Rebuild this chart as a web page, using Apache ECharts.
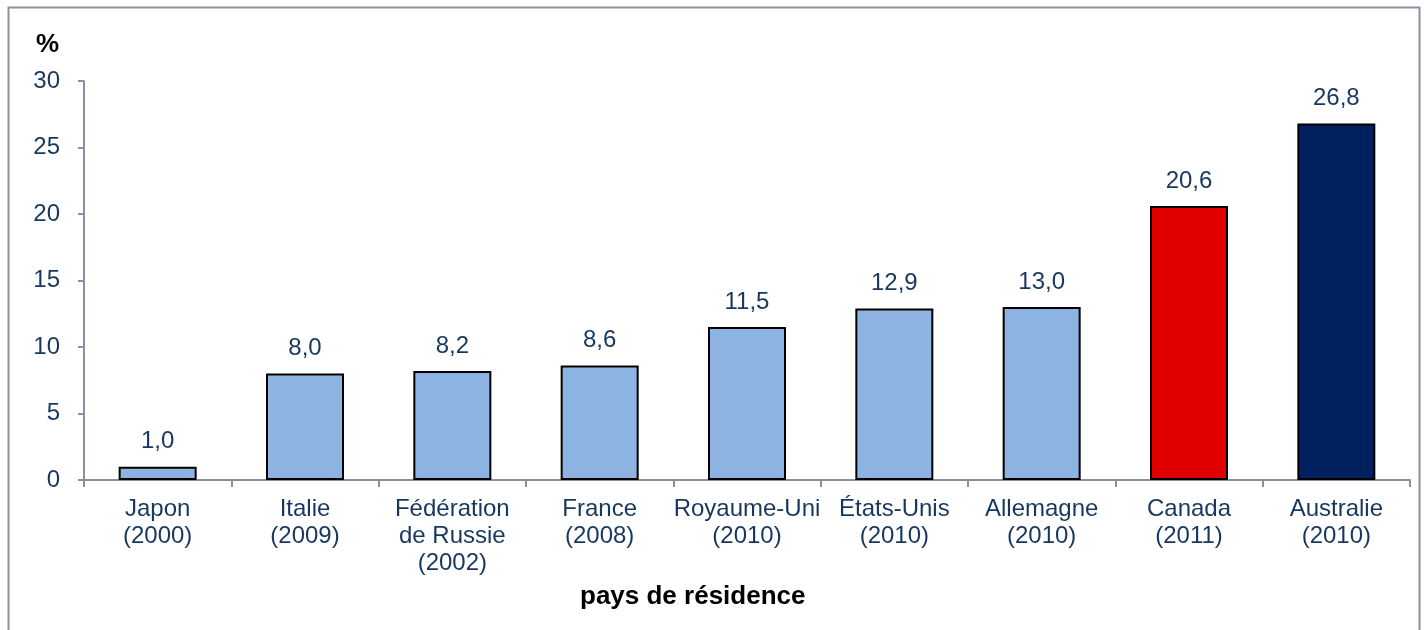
<!DOCTYPE html>
<html>
<head>
<meta charset="UTF-8" />
<title>pays de résidence</title>
<script src="https://cdn.jsdelivr.net/npm/echarts@6/dist/echarts.min.js"></script>
<style>
html, body { margin: 0; padding: 0; background: #fff; }
#chart { width: 1425px; height: 630px; }
</style>
</head>
<body>
<div id="chart"></div>
<script>
// données
var categories = [
  "Japon\n(2000)", "Italie\n(2009)", "Fédération\nde Russie\n(2002)", "France\n(2008)",
  "Royaume-Uni\n(2010)", "États-Unis\n(2010)", "Allemagne\n(2010)", "Canada\n(2011)", "Australie\n(2010)"
];
var values = [1.0, 8.0, 8.2, 8.6, 11.5, 12.9, 13.0, 20.6, 26.8];
var yTicks = [0, 5, 10, 15, 20, 25, 30];

// couleurs des barres (Canada et Australie mis en évidence)
var barColors = ["#8db3e2", "#8db3e2", "#8db3e2", "#8db3e2", "#8db3e2", "#8db3e2", "#8db3e2", "#e00000", "#002060"];

var textBlue = "#17375e";
var axisGray = "#8b90a0";
var font = "Liberation Sans, Arial, sans-serif";

var myChart = echarts.init(document.getElementById("chart"));

var option = {
  animation: false,
  textStyle: { fontFamily: font },
  graphic: [
    {
      type: "rect",
      shape: { x: 8.5, y: 7.5, width: 1411, height: 650 },
      style: { fill: null, stroke: axisGray, lineWidth: 2 },
      silent: true
    },
    {
      type: "text",
      left: 36,
      top: 32,
      style: { text: "%", fontSize: 26, fontWeight: "bold", fill: "#000", fontFamily: font }
    },
    {
      // titre de l'axe des x (légèrement décalé à gauche comme l'original)
      type: "text",
      left: 580,
      top: 584,
      style: { text: "pays de résidence", fontSize: 26, fontWeight: "bold", fill: "#000", fontFamily: font }
    }
  ],
  grid: { left: 84, right: 15, top: 81, bottom: 150 },
  xAxis: {
    type: "category",
    data: categories,
    axisLine: { lineStyle: { color: axisGray, width: 2 } },
    axisTick: { show: true, length: 7, lineStyle: { color: axisGray, width: 2 } },
    axisLabel: { color: textBlue, fontSize: 24, lineHeight: 27, margin: 16, interval: 0 }
  },
  yAxis: {
    type: "value",
    min: 0,
    max: 30,
    interval: 5,
    splitLine: { show: false },
    axisLine: { show: true, lineStyle: { color: axisGray, width: 2 } },
    axisTick: { show: true, length: 6, lineStyle: { color: axisGray, width: 2 } },
    axisLabel: { color: textBlue, fontSize: 24, margin: 24 }
  },
  series: [
    {
      type: "bar",
      barWidth: 78,
      data: values.map(function (v, i) {
        return { value: v, itemStyle: { color: barColors[i] } };
      }),
      itemStyle: { borderColor: "#000", borderWidth: 2 },
      label: {
        show: true,
        position: "top",
        distance: 13,
        color: textBlue,
        fontSize: 24,
        formatter: function (p) { return p.value.toFixed(1).replace(".", ","); }
      }
    }
  ]
};

myChart.setOption(option);
</script>
</body>
</html>
